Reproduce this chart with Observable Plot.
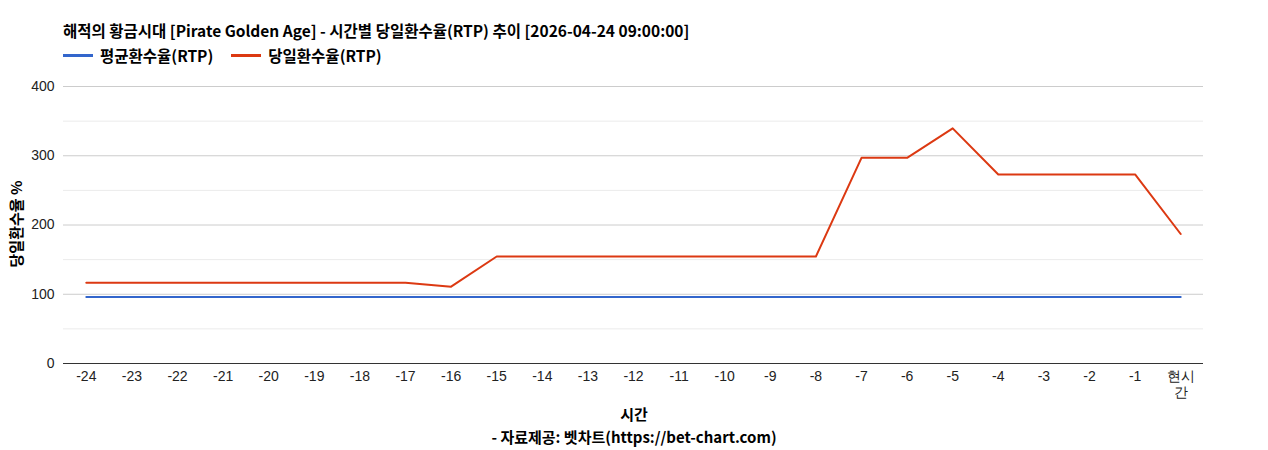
<!DOCTYPE html>
<html><head><meta charset="utf-8">
<script src="https://cdn.jsdelivr.net/npm/d3@7"></script>
<script src="https://cdn.jsdelivr.net/npm/@observablehq/plot@0.6"></script>
<style>
body{margin:0;background:#fff;}
#wrap{position:relative;width:1268px;height:450px;font-family:"Noto Sans CJK KR","Noto Sans",sans-serif;}
.abs{position:absolute;white-space:nowrap;}
#title{left:63px;top:19px;font-size:15.5px;font-weight:bold;color:#000;}
#legend{left:63px;top:44px;font-size:15.5px;font-weight:bold;color:#000;display:flex;gap:18px;}
.li{display:flex;align-items:center;gap:7px;}
.sw{width:30px;height:3px;display:inline-block;}
#xlab{left:0;width:1268px;text-align:center;top:403px;font-size:15px;font-weight:bold;}
#cap{left:0;width:1268px;text-align:center;top:426px;font-size:15px;font-weight:bold;}
#ylab{left:15px;top:224px;font-size:15px;font-weight:bold;transform:translate(-50%,-50%) rotate(-90deg);}
svg{position:absolute;left:0;top:0;}
</style></head>
<body><div id="wrap">
<div id="chart"></div>
<div class="abs" id="title">해적의 황금시대 [Pirate Golden Age] - 시간별 당일환수율(RTP) 추이 [2026-04-24 09:00:00]</div>
<div class="abs" id="legend"><span class="li"><span class="sw" style="background:#3366cc"></span>평균환수율(RTP)</span><span class="li"><span class="sw" style="background:#dc3912"></span>당일환수율(RTP)</span></div>
<div class="abs" id="ylab">당일환수율 %</div>
<div class="abs" id="xlab">시간</div>
<div class="abs" id="cap">- 자료제공: 벳차트(https://bet-chart.com)</div>
</div>
<script>
const hours = ["-24","-23","-22","-21","-20","-19","-18","-17","-16","-15","-14","-13","-12","-11","-10","-9","-8","-7","-6","-5","-4","-3","-2","-1","현시간"];
const avgRTP = [96,96,96,96,96,96,96,96,96,96,96,96,96,96,96,96,96,96,96,96,96,96,96,96,96];
const dailyRTP = [116.5,116.5,116.5,116.5,116.5,116.5,116.5,116.5,111,154.5,154.5,154.5,154.5,154.5,154.5,154.5,154.5,297,297,339.5,273,273,273,273,187];
const majorTicks = [0,100,200,300,400];
const minorTicks = [50,150,250,350];

const avgData = hours.map((h,i)=>({h, v:avgRTP[i]}));
const dayData = hours.map((h,i)=>({h, v:dailyRTP[i]}));

const chart = Plot.plot({
  width:1268, height:450,
  marginTop:86, marginBottom:87, marginLeft:63, marginRight:65,
  style:{fontFamily:"'Liberation Sans', Arial, sans-serif", fontSize:"14px", color:"#222", background:"transparent"},
  x:{type:"point", domain:hours, padding:0.5, round:false, label:null},
  y:{domain:[0,400], label:null},
  marks:[
    Plot.ruleY(minorTicks,{stroke:"#ebebeb"}),
    Plot.ruleY(majorTicks.filter(d=>d>0),{stroke:"#cccccc"}),
    Plot.line(avgData,{x:"h",y:"v",stroke:"#3366cc",strokeWidth:2}),
    Plot.line(dayData,{x:"h",y:"v",stroke:"#dc3912",strokeWidth:2}),
    Plot.ruleY([0],{stroke:"#333"}),
    Plot.axisY({ticks:majorTicks, tickSize:0, tickPadding:9, label:null, fontSize:14}),
    Plot.axisX({tickSize:0, tickPadding:6, label:null, fontSize:14, tickFormat:d=>d==="현시간"?"현시\n간":d, lineHeight:1.15})
  ]
});
document.getElementById("chart").appendChild(chart);
</script>
</body></html>
